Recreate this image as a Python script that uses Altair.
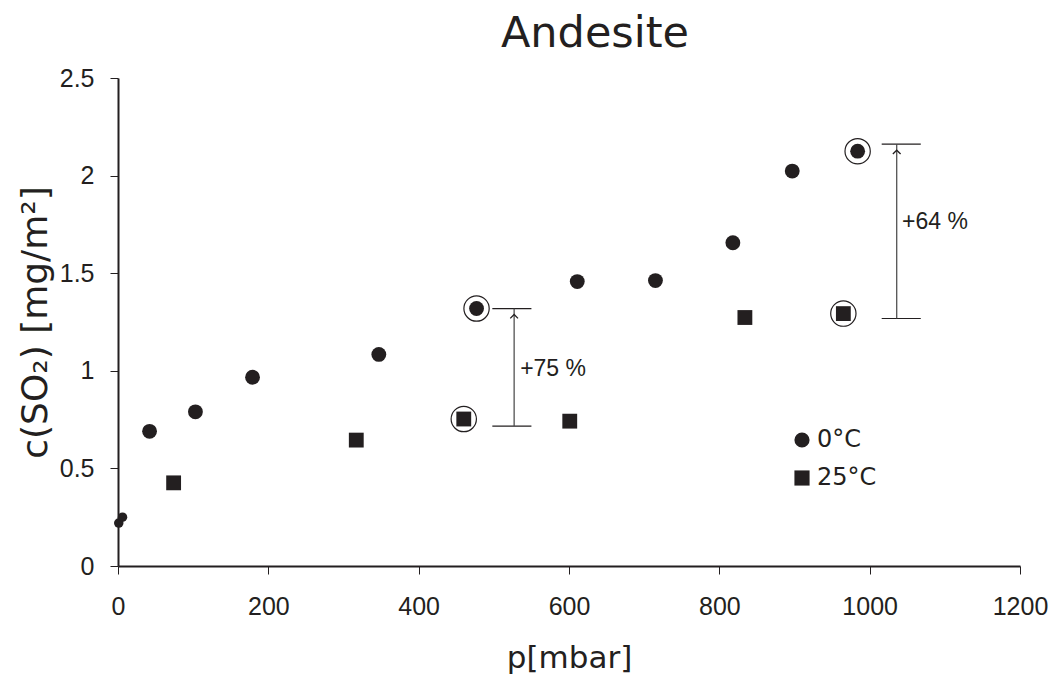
import altair as alt
import pandas as pd

# ---- data ----
series_names = ["0°C", "25°C"]

p_0C = [42, 103, 179, 347, 477, 611, 715, 818, 897, 984]
c_0C = [0.69, 0.79, 0.967, 1.084, 1.319, 1.457, 1.462, 1.656, 2.023, 2.125]

p_0C_low = [1, 6]
c_0C_low = [0.22, 0.25]

p_25C = [74, 317, 460, 601, 834, 965]
c_25C = [0.426, 0.645, 0.753, 0.742, 1.273, 1.293]

# highlighted (ringed) points
ring_p = [477, 460, 984, 965]
ring_c = [1.319, 0.753, 2.125, 1.293]

# difference brackets
br_labels = ["+75 %", "+64 %"]
br_p_left = [498, 1016]
br_p_right = [550, 1068]
br_p_arrow = [527, 1036]
br_c_top = [1.319, 2.161]
br_c_bottom = [0.717, 1.268]
br_text_p = [535, 1043]
br_text_c = [1.01, 1.76]

x_ticks = [0, 200, 400, 600, 800, 1000, 1200]
y_ticks = [0, 0.5, 1, 1.5, 2, 2.5]

INK = "#231f20"
FONT = "Liberation Sans"
TFONT = "DejaVu Sans"

pts = pd.DataFrame({
    "p": p_0C + p_25C,
    "c": c_0C + c_25C,
    "T": [series_names[0]] * len(p_0C) + [series_names[1]] * len(p_25C),
})
low = pd.DataFrame({"p": p_0C_low, "c": c_0C_low})
rings = pd.DataFrame({"p": ring_p, "c": ring_c})
br = pd.DataFrame({
    "lab": br_labels, "pl": br_p_left, "pr": br_p_right, "pa": br_p_arrow,
    "top": br_c_top, "bot": br_c_bottom, "tp": br_text_p, "tc": br_text_c,
})

xs = alt.Scale(domain=[0, 1200], nice=False, zero=False)
ys = alt.Scale(domain=[0, 2.5], nice=False, zero=False)

xax = alt.Axis(values=x_ticks, format="d", title="p[mbar]", grid=False,
               tickSize=8, labelPadding=20, labelFontSize=25, titleFontSize=31,
               titlePadding=24, titleFontWeight="normal", labelFont=FONT, titleFont=TFONT,
               domainWidth=2, domainColor=INK, tickColor=INK, labelColor=INK, titleColor=INK,
               labelFlush=False)
yax = alt.Axis(values=y_ticks, format="~g", title="c(SO₂) [mg/m²]", grid=False,
               tickSize=8, labelPadding=16, labelFontSize=25, titleFontSize=36,
               titlePadding=5, titleFontWeight="normal", labelFont=FONT, titleFont=TFONT,
               domainWidth=2, domainColor=INK, tickColor=INK, labelColor=INK, titleColor=INK,
               labelFlush=False)

base = alt.Chart(pts)

points = base.mark_point(filled=True, opacity=1, color=INK, size=220).encode(
    x=alt.X("p:Q", scale=xs, axis=xax),
    y=alt.Y("c:Q", scale=ys, axis=yax),
    shape=alt.Shape("T:N", scale=alt.Scale(domain=series_names, range=["circle", "square"]),
                    legend=alt.Legend(title=None, orient="none", legendX=672, legendY=350,
                                      labelFontSize=24, labelFont=TFONT, labelColor=INK,
                                      symbolSize=230, symbolFillColor=INK, symbolStrokeColor=INK,
                                      symbolStrokeWidth=0, rowPadding=14, labelOffset=3,
                                      padding=0,
                                      labelExpr="datum.label == '0°C' ? '\u2009' + datum.label : datum.label")),
)

lowpts = alt.Chart(low).mark_point(filled=True, opacity=1, color=INK, size=90, shape="circle").encode(
    x=alt.X("p:Q", scale=xs), y=alt.Y("c:Q", scale=ys))

ringm = alt.Chart(rings).mark_point(filled=False, color=INK, size=640, strokeWidth=1.2,
                                    opacity=1, shape="circle").encode(
    x=alt.X("p:Q", scale=xs), y=alt.Y("c:Q", scale=ys))

bb = alt.Chart(br)
top_bar = bb.mark_rule(color=INK, strokeWidth=1.2).encode(
    x=alt.X("pl:Q", scale=xs), x2="pr:Q", y=alt.Y("top:Q", scale=ys))
bot_bar = bb.mark_rule(color=INK, strokeWidth=1.2).encode(
    x=alt.X("pl:Q", scale=xs), x2="pr:Q", y=alt.Y("bot:Q", scale=ys))
shaft = bb.mark_rule(color="#444444", strokeWidth=1.2).encode(
    x=alt.X("pa:Q", scale=xs), y=alt.Y("bot:Q", scale=ys), y2="top:Q")
head = bb.mark_point(shape="M -1 1 L 0 0 L 1 1", filled=False, color=INK, size=60,
                     strokeWidth=1.3, yOffset=6, opacity=1).encode(
    x=alt.X("pa:Q", scale=xs), y=alt.Y("top:Q", scale=ys))
txt = bb.mark_text(align="left", baseline="middle", fontSize=23, font=FONT, color=INK).encode(
    x=alt.X("tp:Q", scale=xs), y=alt.Y("tc:Q", scale=ys), text="lab:N")

chart = alt.layer(points, lowpts, ringm, top_bar, bot_bar, shaft, head, txt).properties(
    width=902, height=488,
    background="white",
    title=alt.TitleParams("Andesite", fontSize=43, font=TFONT, fontWeight="normal", color=INK,
                          anchor="middle", dx=26, baseline="alphabetic", offset=-24),
    autosize=alt.AutoSizeParams(type="none"),
    padding={"left": 118, "top": 78, "right": 32, "bottom": 117},
).configure_view(stroke="transparent", strokeWidth=0)

chart.save("out.html", embed_options={"renderer": "svg", "actions": False})
